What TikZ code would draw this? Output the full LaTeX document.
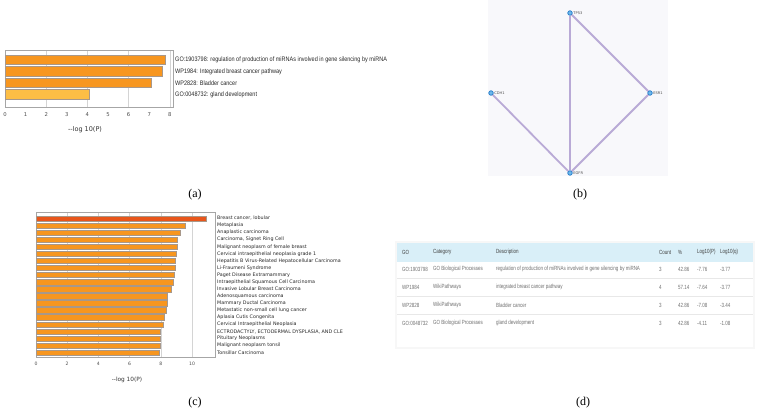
\documentclass[tikz,border=0pt]{standalone}
\usepackage{fontspec}
\setmainfont{Liberation Serif}
\newfontfamily\chartfont{DejaVu Sans}
\newfontfamily\narrowfont{Liberation Sans}[FakeStretch=0.85]
\newfontfamily\tablefont{Liberation Sans}[FakeStretch=0.75]
\usetikzlibrary{positioning}

\definecolor{barorange}{HTML}{F7961F}
\definecolor{barlight}{HTML}{FDBE45}
\definecolor{bartop}{HTML}{E8561B}
\definecolor{baredge}{HTML}{A8988A}
\definecolor{gridgray}{HTML}{D4D4D4}
\definecolor{netbg}{HTML}{F8F8FB}
\definecolor{ppiedge}{HTML}{B9AAD6}
\definecolor{genefill}{HTML}{6EB8EA}
\definecolor{genedraw}{HTML}{1E78C8}
\definecolor{headblue}{HTML}{D9EFF8}
\definecolor{tabtext}{HTML}{707070}

\tikzstyle{every node}=[inner sep=0pt]
\tikzstyle{bar}=[draw=baredge, line width=0.4pt]
\tikzstyle{frame}=[draw=gray!70, line width=0.4pt]
\tikzstyle{gridline}=[draw=gridgray, line width=0.4pt]
\tikzstyle{ticklab}=[font=\chartfont\fontsize{5.3}{6}\selectfont, text=gray!60!black]
\tikzstyle{axislab}=[font=\chartfont\fontsize{6.5}{8}\selectfont, text=black!80]
\tikzstyle{golab}=[anchor=west, font=\narrowfont\fontsize{6.5}{7.5}\selectfont, text=black!85]
\tikzstyle{dislab}=[anchor=west, font=\chartfont\fontsize{4.8}{5.5}\selectfont, text=black!85]
\tikzstyle{gene}=[circle, fill=genefill, draw=genedraw, line width=0.7pt, minimum size=4.5pt]
\tikzstyle{genelab}=[font=\chartfont\fontsize{3.6}{4}\selectfont, text=black!70, inner sep=0.6pt]
\tikzstyle{ppi}=[draw=ppiedge, line width=1.8pt]
\tikzstyle{cell}=[anchor=west, font=\tablefont\fontsize{6}{7}\selectfont, text=tabtext]
\tikzstyle{headcell}=[anchor=west, font=\tablefont\fontsize{6}{7}\selectfont, text=black!75]
\tikzstyle{rowline}=[draw=gray!18, line width=0.5pt]
\tikzstyle{panellab}=[font=\fontsize{12}{14}\selectfont]

\begin{document}
\begin{tikzpicture}[x=1pt, y=-1pt]
\useasboundingbox (0,0) rectangle (760,413);

% (a) enrichment bars
\foreach \t in {2,4,6,8}
  \draw[gridline] ({5+20.6*\t},50) -- ({5+20.6*\t},107);
\draw[frame] (5,50) rectangle (173,107);
\foreach \v/\y/\c in {7.76/55/barorange, 7.64/66.5/barorange, 7.08/78/barorange, 4.11/89.5/barlight}
  \draw[bar, fill=\c] (5,\y) rectangle ({5+20.6*\v},{\y+9.5});
\foreach \t in {0,...,8}
  \node[ticklab] (ta\t) at ({5+20.6*\t},115) {\t};
\node[axislab] (xa) at (85,130) {--log 10(P)};
\foreach \y/\s [count=\i] in {60/GO:1903798: regulation of production of miRNAs involved in gene silencing by miRNA,
  71.5/WP1984: Integrated breast cancer pathway,
  83/WP2828: Bladder cancer,
  94.5/GO:0048732: gland development}
  \node[golab] (la\i) at (175,\y) {\s};
\node[panellab] (capa) at (195,195) {(a)};

% (b) network
\fill[netbg] (488,0) rectangle (668,176);
\node[gene, label={[genelab]right:TP53}] (tp53) at (570,13) {};
\node[gene, label={[genelab]right:CDH1}] (cdh1) at (491,93) {};
\node[gene, label={[genelab]right:ESR1}] (esr1) at (650,93) {};
\node[gene, label={[genelab]right:EGFR}] (egfr) at (570,173) {};

\draw[ppi] (tp53) -- (egfr);
\draw[ppi] (tp53) -- (esr1);
\draw[ppi] (esr1) -- (egfr);
\draw[ppi] (cdh1) -- (egfr);
\node[panellab] (capb) at (580,195) {(b)};

% (c) disease bars
\foreach \t in {2,4,...,10}
  \draw[gridline] ({36+15.6*\t},212) -- ({36+15.6*\t},357);
\draw[frame] (36,212) rectangle (215,357);
\foreach \v/\s [count=\i] in {10.9/{Breast cancer, lobular}, 9.57/Metaplasia, 9.27/Anaplastic carcinoma,
  9.04/{Carcinoma, Signet Ring Cell}, 9.02/Malignant neoplasm of female breast,
  8.96/Cervical intraepithelial neoplasia grade 1, 8.93/Hepatitis B Virus-Related Hepatocellular Carcinoma,
  8.93/Li-Fraumeni Syndrome, 8.85/Paget Disease Extramammary, 8.81/Intraepithelial Squamous Cell Carcinoma,
  8.68/Invasive Lobular Breast Carcinoma, 8.42/Adenosquamous carcinoma, 8.40/Mammary Ductal Carcinoma,
  8.32/Metastatic non-small cell lung cancer, 8.19/Aplasia Cutis Congenita,
  8.15/Cervical Intraepithelial Neoplasia, 7.97/{ECTRODACTYLY, ECTODERMAL DYSPLASIA, AND CLE},
  7.97/Pituitary Neoplasms, 7.95/Malignant neoplasm tonsil, 7.91/Tonsillar Carcinoma}
{
  \ifnum\i=1 \def\c{bartop}\else \def\c{barorange}\fi
  \draw[bar, fill=\c] (36,{215.7+7.07*(\i-1)}) rectangle ({36+15.6*\v},{221.1+7.07*(\i-1)});
  \node[dislab] (lc\i) at (217,{218.4+7.07*(\i-1)}) {\s};
}
\foreach \t in {0,2,...,10}
  \node[ticklab, font=\chartfont\fontsize{4.6}{5}\selectfont] (tc\t) at ({36+15.6*\t},364) {\t};
\node[axislab, font=\chartfont\fontsize{5.8}{7}\selectfont] (xc) at (127,380) {--log 10(P)};
\node[panellab] (capc) at (195,403) {(c)};

% (d) table
\fill[gray!6] (395,241) rectangle (755,349);
\fill[white] (397,243) rectangle (753,347);
\fill[headblue] (397,243) rectangle (753,262);
\foreach \y in {278,296,314}
  \draw[rowline] (397,\y) -- (753,\y);
\foreach \x/\h [count=\k] in {402/GO, 433/Category, 496/Description, 659/Count, 678/\%, 697/Log10(P), 720/Log10(q)}
  \node[headcell] (h\k) at (\x,252) {\h};
\foreach \go/\cat/\desc/\cnt/\pct/\lp/\lq [count=\r] in {
  GO:1903798/GO Biological Processes/regulation of production of miRNAs involved in gene silencing by miRNA/3/42.86/-7.76/-3.77,
  WP1984/WikiPathways/integrated breast cancer pathway/4/57.14/-7.64/-3.77,
  WP2828/WikiPathways/Bladder cancer/3/42.86/-7.08/-3.44,
  GO:0048732/GO Biological Processes/gland development/3/42.86/-4.11/-1.08}
{
  \node[cell] (go\r)   at (402,{269+18*(\r-1)}) {\go};
  \node[cell] (cat\r)  at (433,{269+18*(\r-1)}) {\cat};
  \node[cell] (desc\r) at (496,{269+18*(\r-1)}) {\desc};
  \node[cell] (cnt\r)  at (659,{269+18*(\r-1)}) {\cnt};
  \node[cell] (pct\r)  at (678,{269+18*(\r-1)}) {\pct};
  \node[cell] (lp\r)   at (697,{269+18*(\r-1)}) {\lp};
  \node[cell] (lq\r)   at (720,{269+18*(\r-1)}) {\lq};
}
\node[panellab] (capd) at (583,403) {(d)};

\end{tikzpicture}
\end{document}
